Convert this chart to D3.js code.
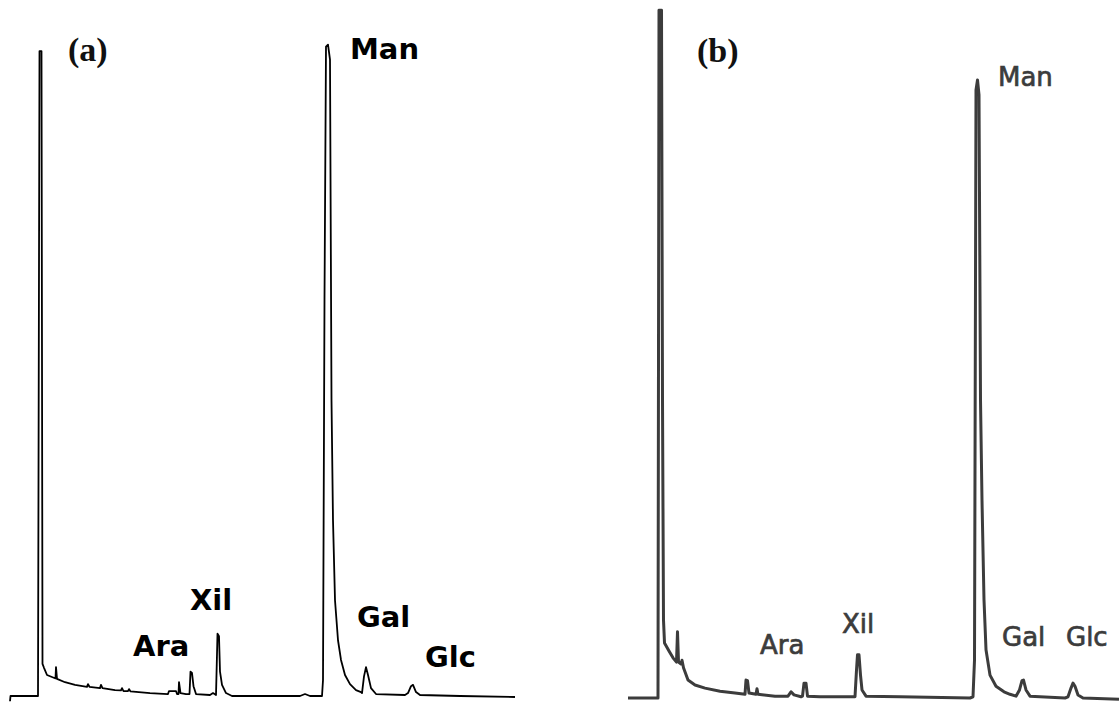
<!DOCTYPE html>
<html>
<head>
<meta charset="utf-8">
<script src="https://cdn.jsdelivr.net/npm/d3@7"></script>
<style>
  html, body { margin: 0; padding: 0; background: #fff; }
  svg { display: block; }
</style>
</head>
<body>
<svg id="chart" width="1119" height="705"></svg>
<script>
// retention time (arbitrary units) and detector signal (% of main peak)
const timeA = [0, 0.05, 2.8, 2.95, 3.15, 3.25, 3.4, 3.7, 4.5, 4.55, 4.6, 4.7, 5.5, 6.5, 7.7, 7.8, 7.95, 9.0, 9.1, 9.25,
  10.5, 11.1, 11.2, 11.35, 11.8, 11.9, 12.05, 14, 15.8, 15.9, 16.6, 16.7, 16.85, 16.9, 17.05, 17.6, 17.95, 18.05, 18.2, 18.35,
  18.6, 20, 20.3, 20.6, 20.75, 20.9, 21, 21.2, 21.6, 22.2, 29, 29.5, 30, 31.2, 31.3, 31.45, 31.6, 31.8, 32.0, 32.15,
  32.3, 32.5, 32.8, 33.1, 33.5, 34, 34.6, 35.1, 35.2, 35.4, 35.6, 35.8, 36.1, 36.6, 39.5, 39.8, 40.1, 40.3, 40.6, 41,
  45, 50.5];
const signalA = [-0.8, 0, 0, 98.3, 98.3, 4.9, 4.3, 3.2, 2.7, 2.7, 4.4, 2.6, 2.1, 1.7, 1.4, 1.8, 1.4, 1.2, 1.7, 1.2,
  0.9, 0.85, 1.2, 0.75, 0.75, 1.05, 0.7, 0.45, 0.3, 0.75, 0.75, 0.3, 0.3, 2.1, 0.45, 0.3, 0.3, 3.7, 3.5, 1.5,
  0.3, 0.15, 0.45, 0.15, 9.5, 9.1, 3.7, 1.7, 0.45, 0, 0, 0.3, 0, 0, 2.4, 60.4, 99.0, 99.3, 97, 45.1,
  26.8, 14.6, 8.5, 5.5, 3.2, 1.8, 0.9, 0.6, 0.45, 3, 4.4, 3.2, 1.2, 0.3, 0.15, 0.45, 1.5, 1.7, 0.6, 0.15,
  0, -0.15];

const timeB = [0, 3.0, 3.1, 3.35, 3.45, 3.55, 3.65, 4.1, 4.5, 4.85, 4.95, 5.05, 5.3, 5.4, 5.55, 6.0, 6.7, 7.7, 9.2, 10.7,
  11.7, 11.8, 11.95, 12.1, 12.8, 12.9, 13.0, 14.7, 16.0, 16.3, 16.6, 17.3, 17.45, 17.6, 17.8, 17.95, 19.2, 22.7, 22.85, 22.95,
  23.1, 23.25, 23.4, 23.8, 27.2, 34.2, 34.5, 34.65, 34.8, 34.95, 35.1, 35.25, 35.4, 35.6, 35.8, 36.2, 36.8, 37.6, 38.2, 38.8,
  39.15, 39.4, 39.55, 39.8, 40.2, 43.7, 44.0, 44.3, 44.5, 44.7, 45.0, 45.5, 49.1];
const signalB = [0, 0, 111.3, 111.3, 48.2, 12.6, 8.9, 7.6, 6.5, 5.8, 10.7, 5.8, 5.5, 6.1, 4.9, 2.9, 2.1, 1.6, 1.1, 0.8,
  0.6, 2.9, 2.8, 0.8, 0.6, 1.5, 0.6, 0.3, 0.3, 1.0, 0.5, 0.2, 0.3, 2.4, 2.4, 0.3, 0.2, 0.2, 4.5, 7.0,
  7.0, 3.7, 1.3, 0.3, 0.2, 0, 0.2, 6.1, 98.4, 100, 97.6, 48.2, 32, 15.9, 7.8, 3.7, 1.9, 1.0, 0.6, 0.3,
  1.3, 2.8, 2.9, 1.3, 0.3, 0, 0.2, 1.6, 2.4, 1.9, 0.5, 0, -0.2];

const peakNames = ["Ara", "Xil", "Man", "Gal", "Glc"];
const panelTags = ["(a)", "(b)"];

const svg = d3.select("#chart");

// panel layouts (pixels)
const panels = [
  {
    tag: panelTags[0], time: timeA, signal: signalA,
    x: d3.scaleLinear().domain([0, 50.5]).range([10, 515]),
    y: d3.scaleLinear().domain([0, 100]).range([696, 40]),
    stroke: "#000", width: 1.8,
    tagPos: [68, 61],
    font: { weight: "bold", size: 29, color: "#000", outline: 0 },
    labels: { Ara: [133, 656], Xil: [190, 610], Man: [350, 59], Gal: [357, 627], Glc: [425, 667] }
  },
  {
    tag: panelTags[1], time: timeB, signal: signalB,
    x: d3.scaleLinear().domain([0, 49.1]).range([628, 1119]),
    y: d3.scaleLinear().domain([0, 100]).range([698, 80]),
    stroke: "#3c3c3c", width: 3,
    tagPos: [697, 62],
    font: { weight: "normal", size: 26, color: "#3c3c3c", outline: 0.7 },
    labels: { Ara: [760, 654], Xil: [842, 633], Man: [998, 86], Gal: [1002, 646], Glc: [1066, 646] }
  }
];

panels.forEach(p => {
  const pts = p.time.map((t, i) => [t, p.signal[i]]);
  const line = d3.line()
    .x(d => p.x(d[0]))
    .y(d => p.y(d[1]));

  svg.append("path")
    .datum(pts)
    .attr("d", line)
    .attr("fill", "none")
    .attr("stroke", p.stroke)
    .attr("stroke-width", p.width)
    .attr("stroke-linejoin", "round");

  // panel tag, always near black
  svg.append("text")
    .attr("x", p.tagPos[0])
    .attr("y", p.tagPos[1])
    .attr("font-family", "'Liberation Serif', 'Times New Roman', serif")
    .attr("font-weight", "bold")
    .attr("font-size", 34)
    .attr("fill", "#111")
    .text(p.tag);

  peakNames.forEach(name => {
    svg.append("text")
      .attr("x", p.labels[name][0])
      .attr("y", p.labels[name][1])
      .attr("font-family", "'DejaVu Sans', sans-serif")
      .attr("font-weight", p.font.weight)
      .attr("font-size", p.font.size)
      .attr("fill", p.font.color)
      .attr("stroke", p.font.color)
      .attr("stroke-width", p.font.outline)
      .text(name);
  });
});
</script>
</body>
</html>
